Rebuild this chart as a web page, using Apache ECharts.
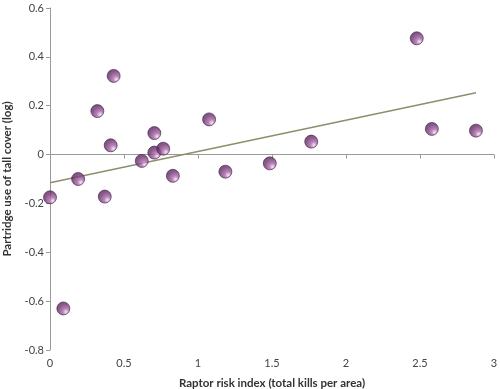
<!DOCTYPE html>
<html>
<head>
<meta charset="utf-8">
<script src="https://cdn.jsdelivr.net/npm/echarts@6/dist/echarts.min.js"></script>
<style>
html,body{margin:0;padding:0;background:#fff;}
#chart{width:500px;height:389px;}
</style>
</head>
<body>
<div id="chart"></div>
<script>
const xValues = [0, 0.09, 0.19, 0.32, 0.37, 0.41, 0.43, 0.62, 0.705, 0.705, 0.765, 0.83, 1.075, 1.185, 1.485, 1.765, 2.478, 2.58, 2.878];
const yValues = [-0.175, -0.63, -0.10, 0.178, -0.172, 0.038, 0.322, -0.026, 0.088, 0.008, 0.024, -0.087, 0.144, -0.07, -0.036, 0.053, 0.476, 0.105, 0.098];
const trendX = [0, 2.878];
const trendY = [-0.115, 0.253];
const xTicks = [0, 0.5, 1, 1.5, 2, 2.5, 3];
const yTicks = [-0.8, -0.6, -0.4, -0.2, 0, 0.2, 0.4, 0.6];

const points = xValues.map((x, i) => [x, yValues[i]]);
const trend = trendX.map((x, i) => [x, trendY[i]]);

const chart = echarts.init(document.getElementById('chart'), null, {renderer: 'canvas'});
const font = 'Lato, "DejaVu Sans", sans-serif';
chart.setOption({
  animation: false,
  backgroundColor: '#ffffff',
  grid: {left: 50, right: 6, top: 8, bottom: 39, containLabel: false, outerBoundsMode: 'none'},
  xAxis: {
    type: 'value', min: 0, max: 3, interval: 0.5,
    name: 'Raptor risk index (total kills per area)',
    nameLocation: 'middle', nameGap: 27,
    nameTextStyle: {fontFamily: font, fontWeight: 'bold', fontSize: 11.5, color: '#333'},
    axisLine: {show: true, lineStyle: {color: '#9a9a9a', width: 1}},
    axisTick: {show: true, length: 4, lineStyle: {color: '#9a9a9a'}},
    axisLabel: {fontFamily: font, fontSize: 11, color: '#444', margin: 8,
      formatter: v => xTicks.includes(v) ? String(v) : ''},
    splitLine: {show: false}
  },
  yAxis: {
    type: 'value', min: -0.8, max: 0.6, interval: 0.2,
    name: 'Partridge use of tall cover (log)',
    nameLocation: 'middle', nameGap: 36,
    nameTextStyle: {fontFamily: font, fontWeight: 'bold', fontSize: 11.5, color: '#333'},
    axisLine: {show: true, lineStyle: {color: '#9a9a9a', width: 1}},
    axisTick: {show: true, length: 4, lineStyle: {color: '#9a9a9a'}},
    axisLabel: {fontFamily: font, fontSize: 11, color: '#444', margin: 6,
      formatter: v => {
        const r = Math.round(v * 10) / 10;
        return yTicks.some(t => Math.abs(t - r) < 1e-9) ? (r === 0 ? '0' : r.toFixed(1)) : '';
      }},
    splitLine: {show: false}
  },
  series: [
    {
      type: 'line',
      data: trend,
      symbol: 'none',
      lineStyle: {color: '#8c8f6c', width: 1.5},
      z: 1
    },
    {
      type: 'scatter',
      data: points,
      symbolSize: 13,
      itemStyle: {
        color: {
          type: 'radial', x: 0.7, y: 0.75, r: 0.8,
          colorStops: [
            {offset: 0, color: '#f3e2f1'},
            {offset: 0.3, color: '#a866a6'},
            {offset: 0.7, color: '#6e326f'},
            {offset: 1, color: '#52225a'}
          ]
        },
        borderColor: '#42204a',
        borderWidth: 0.8
      },
      z: 2
    }
  ]
});
</script>
</body>
</html>
